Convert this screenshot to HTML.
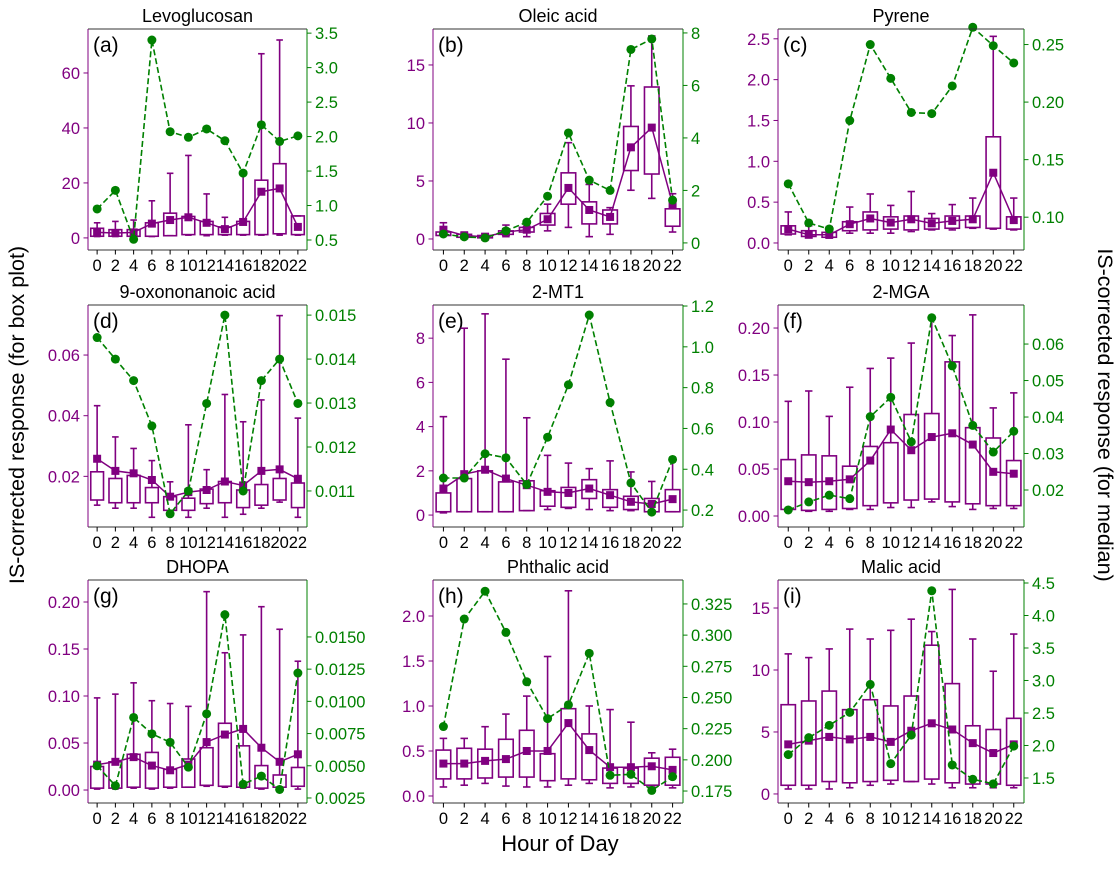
<!DOCTYPE html>
<html><head><meta charset="utf-8">
<style>
html,body{margin:0;padding:0;background:#fff;}
svg text{font-family:"Liberation Sans","DejaVu Sans",sans-serif;}
</style></head>
<body>
<svg id="fig" width="1120" height="865" viewBox="0 0 1120 865" xmlns="http://www.w3.org/2000/svg">
<text x="0" y="0" transform="translate(24,415) rotate(-90)" text-anchor="middle" font-size="21.5">IS-corrected response (for box plot)</text>
<text x="0" y="0" transform="translate(1098,415) rotate(90)" text-anchor="middle" font-size="21.5">IS-corrected response (for median)</text>
<text x="560" y="851" text-anchor="middle" font-size="22">Hour of Day</text>
</svg>
<script>
const hours = [0,2,4,6,8,10,12,14,16,18,20,22];
const titles = ["Levoglucosan","Oleic acid","Pyrene","9-oxononanoic acid","2-MT1","2-MGA","DHOPA","Phthalic acid","Malic acid"];
const tags = ["(a)","(b)","(c)","(d)","(e)","(f)","(g)","(h)","(i)"];
const whiskerLow = [
 [0.5,0.5,0.5,0.5,0.8,1,0.8,1,1,1,1,1],
 [0.3,0.1,0.1,0.2,0.2,0.7,1,0.2,0.4,4.2,3.5,0.6],
 [0.10,0.07,0.06,0.12,0.12,0.12,0.14,0.16,0.16,0.18,0.17,0.16],
 [0.0105,0.0095,0.0095,0.0065,0.0075,0.0065,0.0095,0.0065,0.0075,0.0095,0.0115,0.0065],
 [0.1,0.15,0.15,0.15,0.2,0.25,0.3,0.25,0.2,0.2,0.15,0.15],
 [0.006,0.005,0.005,0.007,0.007,0.009,0.009,0.015,0.01,0.007,0.008,0.008],
 [0.001,0.001,0.002,0.001,0.002,0.003,0.004,0.003,0.002,0.001,0.002,0.001],
 [0.1,0.12,0.14,0.11,0.1,0.1,0.12,0.14,0.09,0.1,0.1,0.09],
 [0.4,0.4,0.4,0.5,0.7,0.8,1.0,0.8,0.5,0.5,0.5,0.5]
];
const quartile1 = [
 [0.6,0.6,0.6,0.6,0.8,1.2,1.2,1.2,1.2,1.2,1.5,1.2],
 [0.3,0.15,0.1,0.4,0.6,1.2,3,1.3,1.3,5.9,5.6,1.1],
 [0.11,0.08,0.07,0.15,0.16,0.17,0.16,0.17,0.18,0.19,0.18,0.17],
 [0.0122,0.0113,0.0113,0.0113,0.0088,0.0088,0.011,0.0113,0.0097,0.0105,0.0122,0.0097],
 [0.15,0.15,0.15,0.15,0.2,0.4,0.35,0.75,0.35,0.25,0.15,0.15],
 [0.007,0.006,0.007,0.008,0.011,0.014,0.017,0.018,0.015,0.013,0.011,0.011],
 [0.002,0.002,0.003,0.002,0.003,0.003,0.005,0.004,0.003,0.002,0.003,0.004],
 [0.19,0.19,0.2,0.21,0.21,0.17,0.19,0.18,0.14,0.14,0.12,0.12],
 [0.7,0.7,1.0,0.9,1.0,1.1,1.0,1.2,0.9,0.8,0.8,0.7]
];
const quartile3 = [
 [3.5,3,3,5.5,9,7.8,6,4,6,21,27,8],
 [0.6,0.4,0.3,0.7,1.0,2.2,5.7,3.2,2.5,9.7,13.1,2.6],
 [0.21,0.15,0.13,0.26,0.38,0.32,0.33,0.3,0.33,0.33,1.30,0.32],
 [0.0215,0.0193,0.0203,0.0163,0.0133,0.0128,0.0158,0.0183,0.0155,0.0173,0.0193,0.0178],
 [1.0,1.65,2.0,1.5,1.55,1.1,1.25,1.6,1.15,0.85,0.75,1.15],
 [0.060,0.065,0.064,0.053,0.074,0.078,0.108,0.109,0.164,0.094,0.083,0.059],
 [0.025,0.030,0.038,0.040,0.022,0.033,0.045,0.071,0.047,0.026,0.016,0.024],
 [0.51,0.53,0.52,0.63,0.73,0.47,0.97,0.69,0.31,0.31,0.42,0.43],
 [7.2,7.5,8.3,6.8,7.6,7.1,7.9,12.0,8.9,5.5,5.2,6.1]
];
const whiskerHigh = [
 [5.5,6,6.5,13.5,23.5,30,16,7.5,23,67,72,8],
 [1.4,0.6,0.4,1.2,1.1,3.0,8.3,4.7,2.7,13.2,17.5,3.9],
 [0.38,0.21,0.2,0.44,0.6,0.46,0.63,0.36,0.47,0.55,2.53,0.55],
 [0.0433,0.0330,0.0292,0.0252,0.0182,0.0370,0.0222,0.0470,0.0380,0.0452,0.0730,0.0392],
 [4.45,8.45,9.1,7.05,4.4,2.7,2.35,2.1,2.45,1.95,1.52,2.55],
 [0.122,0.133,0.106,0.137,0.157,0.168,0.184,0.211,0.192,0.214,0.115,0.131],
 [0.098,0.102,0.114,0.095,0.092,0.089,0.211,0.146,0.165,0.195,0.171,0.137],
 [0.64,0.64,0.77,0.91,1.11,1.55,2.28,1.0,0.96,0.82,0.48,0.52],
 [11.3,11.0,11.7,13.3,12.5,13.2,14.1,13.1,16.5,12.5,9.9,12.9]
];
const meanValues = [
 [2,1.8,2,5.2,6.5,7.5,5.5,3.2,5.8,16.8,18,4],
 [0.8,0.3,0.2,0.6,0.8,1.7,4.4,2.5,1.9,7.9,9.6,3.0],
 [0.17,0.1,0.1,0.23,0.3,0.25,0.29,0.24,0.27,0.29,0.86,0.28],
 [0.0258,0.0218,0.0210,0.0188,0.0133,0.0148,0.0155,0.0183,0.0170,0.0218,0.0223,0.0192],
 [1.2,1.85,2.05,1.65,1.35,1.05,1.0,1.2,0.9,0.6,0.5,0.72],
 [0.037,0.036,0.037,0.039,0.059,0.092,0.070,0.084,0.088,0.076,0.047,0.045],
 [0.027,0.030,0.035,0.026,0.021,0.027,0.051,0.059,0.065,0.045,0.030,0.038],
 [0.36,0.36,0.39,0.41,0.50,0.50,0.81,0.51,0.32,0.32,0.33,0.29],
 [4.0,4.3,4.6,4.4,4.6,4.2,5.1,5.7,5.2,4.1,3.3,4.0]
];
const medianValues = [
 [0.95,1.22,0.51,3.4,2.07,1.99,2.11,1.94,1.47,2.17,1.93,2.01],
 [0.34,0.23,0.19,0.46,0.79,1.78,4.19,2.39,2.0,7.37,7.77,1.63],
 [0.129,0.095,0.0897,0.184,0.25,0.2206,0.191,0.19,0.214,0.265,0.249,0.234],
 [0.01449,0.0140,0.01351,0.01248,0.01048,0.0110,0.01299,0.0150,0.0110,0.01351,0.0140,0.01299],
 [0.357,0.357,0.476,0.456,0.325,0.557,0.814,1.156,0.727,0.333,0.19,0.448],
 [0.01453,0.01673,0.01859,0.01762,0.0401,0.0454,0.0332,0.0672,0.0540,0.0377,0.0304,0.0361],
 [0.0050,0.00345,0.00875,0.00748,0.00682,0.00489,0.00903,0.01673,0.00357,0.0042,0.00316,0.0122],
 [0.2267,0.3129,0.3352,0.3022,0.2626,0.2331,0.2441,0.2854,0.1876,0.1884,0.1755,0.1865],
 [1.86,2.12,2.31,2.51,2.94,1.72,2.16,4.38,1.70,1.48,1.41,1.99]
];
const leftTicks = [
 ["0","20","40","60"],["0","5","10","15"],["0.0","0.5","1.0","1.5","2.0","2.5"],
 ["0.02","0.04","0.06"],["0","2","4","6","8"],["0.00","0.05","0.10","0.15","0.20"],
 ["0.00","0.05","0.10","0.15","0.20"],["0.0","0.5","1.0","1.5","2.0"],["0","5","10","15"]
];
const rightTicks = [
 ["0.5","1.0","1.5","2.0","2.5","3.0","3.5"],["0","2","4","6","8"],["0.10","0.15","0.20","0.25"],
 ["0.011","0.012","0.013","0.014","0.015"],["0.2","0.4","0.6","0.8","1.0","1.2"],["0.02","0.03","0.04","0.05","0.06"],
 ["0.0025","0.0050","0.0075","0.0100","0.0125","0.0150"],["0.175","0.200","0.225","0.250","0.275","0.300","0.325"],["1.5","2.0","2.5","3.0","3.5","4.0","4.5"]
];
// layout (not data): axis rectangles and axis ranges
const cols = [[88,307],[433,683],[778,1024]];
const rows = [[29,250],[305,527],[580,803]];
const leftRange = [[-4.4,76],[-0.95,18.1],[-0.086,2.62],[0.0033,0.0765],[-0.54,9.5],[-0.0117,0.2245],[-0.0138,0.2234],[-0.078,2.4],[-0.73,17.26]];
const rightRange = [[0.355,3.56],[-0.27,8.15],[0.0715,0.2635],[0.01018,0.01523],[0.117,1.205],[0.00986,0.0707],[0.00211,0.01942],[0.1654,0.3442],[1.115,4.546]];

const NS = "http://www.w3.org/2000/svg";
const svg = document.getElementById('fig');
const PURPLE = "#800080", GREEN = "#008000";
const TICK_FS = 16.5;
function mk(tag, attrs, parent){
  const e = document.createElementNS(NS, tag);
  for (const k in attrs) e.setAttribute(k, attrs[k]);
  (parent||svg).appendChild(e);
  return e;
}
for (let p = 0; p < 9; p++) {
  const [x0,x1] = cols[p%3], [y0,y1] = rows[Math.floor(p/3)];
  const g = mk('g', {});
  
  
  const cw = (x1-x0)/12;
  const xp = i => x0 + (i+0.5)*cw;
  const [lmin,lmax] = leftRange[p], [rmin,rmax] = rightRange[p];
  const yl = v => y1 - (v-lmin)/(lmax-lmin)*(y1-y0);
  const yr = v => y1 - (v-rmin)/(rmax-rmin)*(y1-y0);
  const t = mk('text', {x:(x0+x1)/2, y:y0-7, 'text-anchor':'middle', 'font-size':18}, g);
  t.textContent = titles[p];
  
  
  const tg = mk('text', {x:x0+5, y:y0+23, 'font-size':21}, g);
  tg.textContent = tags[p];
  
  
  for (let i = 0; i < 12; i++) {
    const cx = xp(i), bw = cw*0.7, capw = cw*0.36;
    const b = mk('g', {stroke:PURPLE, 'stroke-width':1.6, fill:'none'}, g);
    
    
    mk('line', {x1:cx, x2:cx, y1:yl(quartile3[p][i]), y2:yl(whiskerHigh[p][i])}, b);
    mk('line', {x1:cx, x2:cx, y1:yl(quartile1[p][i]), y2:yl(whiskerLow[p][i])}, b);
    mk('line', {x1:cx-capw/2, x2:cx+capw/2, y1:yl(whiskerHigh[p][i]), y2:yl(whiskerHigh[p][i])}, b);
    mk('line', {x1:cx-capw/2, x2:cx+capw/2, y1:yl(whiskerLow[p][i]), y2:yl(whiskerLow[p][i])}, b);
    const top = yl(quartile3[p][i]), bot = yl(quartile1[p][i]);
    mk('rect', {x:cx-bw/2, y:top, width:bw, height:Math.max(bot-top,0.5)}, b);
  }
  const mp = meanValues[p].map((v,i)=>xp(i).toFixed(1)+','+yl(v).toFixed(1)).join(' ');
  const ml = mk('polyline', {points:mp, fill:'none', stroke:PURPLE, 'stroke-width':1.5}, g);
  
  
  meanValues[p].forEach((v,i)=>{
    const r = mk('rect', {x:xp(i)-4, y:yl(v)-4, width:8, height:8, fill:PURPLE}, g);
    
    
  });
  const dp = medianValues[p].map((v,i)=>xp(i).toFixed(1)+','+yr(v).toFixed(1)).join(' ');
  const dl = mk('polyline', {points:dp, fill:'none', stroke:GREEN, 'stroke-width':1.6, 'stroke-dasharray':'6,3'}, g);
  
  
  medianValues[p].forEach((v,i)=>{
    const c = mk('circle', {cx:xp(i), cy:yr(v), r:4.5, fill:GREEN}, g);
    
    
  });
  mk('line', {x1:x0, x2:x1, y1:y0, y2:y0, stroke:'#333', 'stroke-width':1}, g);
  mk('line', {x1:x0, x2:x1, y1:y1, y2:y1, stroke:'#333', 'stroke-width':1}, g);
  mk('line', {x1:x0, x2:x0, y1:y0, y2:y1, stroke:PURPLE, 'stroke-width':1}, g);
  mk('line', {x1:x1, x2:x1, y1:y0, y2:y1, stroke:GREEN, 'stroke-width':1}, g);
  hours.forEach((h,i)=>{
    mk('line', {x1:xp(i), x2:xp(i), y1:y1, y2:y1+4.5, stroke:'#000', 'stroke-width':1}, g);
    const tx = mk('text', {x:xp(i), y:y1+21, 'text-anchor':'middle', 'font-size':TICK_FS}, g);
    tx.textContent = h;
    
    
  });
  leftTicks[p].forEach(s=>{
    const y = yl(parseFloat(s));
    mk('line', {x1:x0-4.5, x2:x0, y1:y, y2:y, stroke:PURPLE, 'stroke-width':1}, g);
    const tx = mk('text', {x:x0-8, y:y+6, 'text-anchor':'end', 'font-size':TICK_FS, fill:PURPLE}, g);
    tx.textContent = s;
    
    
  });
  rightTicks[p].forEach(s=>{
    const y = yr(parseFloat(s));
    mk('line', {x1:x1, x2:x1+4.5, y1:y, y2:y, stroke:GREEN, 'stroke-width':1}, g);
    const tx = mk('text', {x:x1+8, y:y+6, 'text-anchor':'start', 'font-size':TICK_FS, fill:GREEN}, g);
    tx.textContent = s;
    
    
  });
}
</script>
</body></html>
